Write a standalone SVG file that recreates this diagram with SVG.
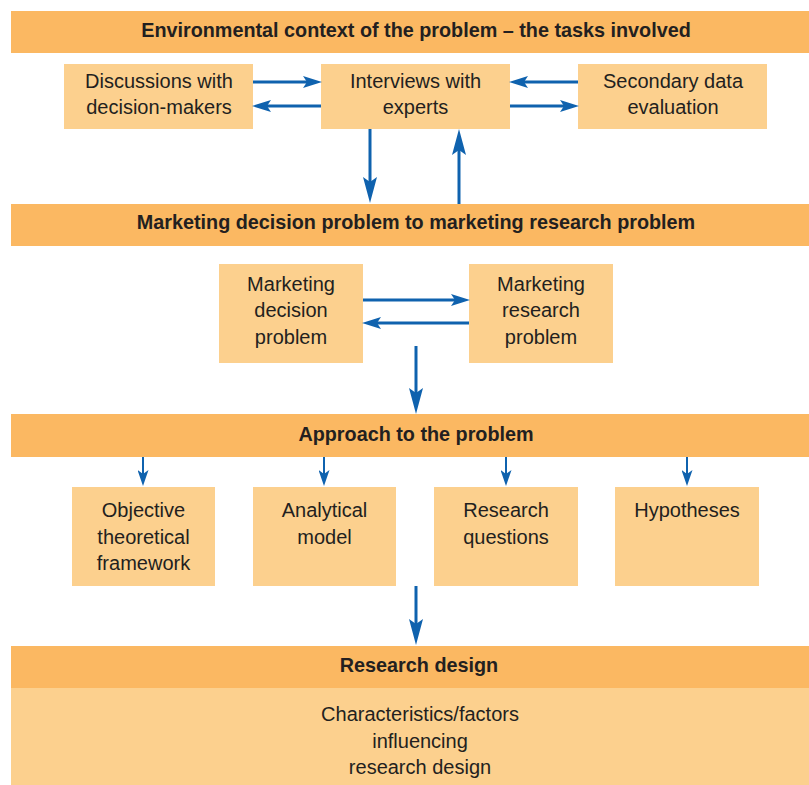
<svg xmlns="http://www.w3.org/2000/svg" width="809" height="785" viewBox="0 0 809 785">
<style>
.band{fill:#FBB862}
.box{fill:#FCD08E}
.t{font-family:"Liberation Sans",Arial,sans-serif;font-size:20px;fill:#231f20;text-anchor:middle}
.b{font-weight:bold;font-size:19.8px}
.c{stroke:#0F62AE;stroke-width:3;fill:none}
.s{stroke-width:2}
</style>
<defs>
<marker id="big" markerUnits="userSpaceOnUse" markerWidth="26" markerHeight="14" refX="16" refY="7" orient="auto"><path d="M0,0 L26,7 L0,14 L5,7 z" fill="#0F62AE"/></marker>
<marker id="med" markerUnits="userSpaceOnUse" markerWidth="19" markerHeight="12" refX="9" refY="6" orient="auto"><path d="M0,0 L19,6 L0,12 L4,6 z" fill="#0F62AE"/></marker>
<marker id="sm" markerUnits="userSpaceOnUse" markerWidth="16" markerHeight="11" refX="8" refY="5.5" orient="auto"><path d="M0,0 L16,5.5 L0,11 L4,5.5 z" fill="#0F62AE"/></marker>
</defs>
<g id="env">
<rect class="band" x="11" y="11" width="798" height="42"/>
<text class="t b" x="416" y="37">Environmental context of the problem – the tasks involved</text>
</g>
<g id="disc">
<rect class="box" x="64" y="64" width="189" height="65"/>
<text class="t" x="159" y="88">Discussions with</text>
<text class="t" x="159" y="114">decision-makers</text>
</g>
<g id="interv">
<rect class="box" x="321" y="64" width="189" height="65"/>
<text class="t" x="415.5" y="88">Interviews with</text>
<text class="t" x="415.5" y="114">experts</text>
</g>
<g id="second">
<rect class="box" x="578" y="64" width="189" height="65"/>
<text class="t" x="673" y="88">Secondary data</text>
<text class="t" x="673" y="114">evaluation</text>
</g>
<g id="mdp2mrp">
<rect class="band" x="11" y="204" width="798" height="42"/>
<text class="t b" x="416" y="229">Marketing decision problem to marketing research problem</text>
</g>
<g id="mdp">
<rect class="box" x="219" y="264" width="144" height="99"/>
<text class="t" x="291" y="291">Marketing</text>
<text class="t" x="291" y="317">decision</text>
<text class="t" x="291" y="344">problem</text>
</g>
<g id="mrp">
<rect class="box" x="469" y="264" width="144" height="99"/>
<text class="t" x="541" y="291">Marketing</text>
<text class="t" x="541" y="317">research</text>
<text class="t" x="541" y="344">problem</text>
</g>
<g id="approach">
<rect class="band" x="11" y="414" width="798" height="43"/>
<text class="t b" x="416" y="441">Approach to the problem</text>
</g>
<g id="otf">
<rect class="box" x="72" y="487" width="143" height="99"/>
<text class="t" x="143.5" y="517">Objective</text>
<text class="t" x="143.5" y="544">theoretical</text>
<text class="t" x="143.5" y="570">framework</text>
</g>
<g id="am">
<rect class="box" x="253" y="487" width="143" height="99"/>
<text class="t" x="324.5" y="517">Analytical</text>
<text class="t" x="324.5" y="544">model</text>
</g>
<g id="rq">
<rect class="box" x="434" y="487" width="144" height="99"/>
<text class="t" x="506" y="517">Research</text>
<text class="t" x="506" y="544">questions</text>
</g>
<g id="hyp">
<rect class="box" x="615" y="487" width="144" height="99"/>
<text class="t" x="687" y="517">Hypotheses</text>
</g>
<g id="rd">
<rect class="band" x="11" y="646" width="798" height="42"/>
<rect class="box" x="11" y="688" width="798" height="97"/>
<text class="t b" x="419" y="672">Research design</text>
<text class="t" x="420" y="721">Characteristics/factors</text>
<text class="t" x="420" y="748">influencing</text>
<text class="t" x="420" y="774">research design</text>
</g>
<g id="connectors">
<line class="c" x1="253" y1="82" x2="312" y2="82" marker-end="url(#med)"/>
<line class="c" x1="321" y1="106" x2="262" y2="106" marker-end="url(#med)"/>
<line class="c" x1="578" y1="82" x2="519" y2="82" marker-end="url(#med)"/>
<line class="c" x1="510" y1="106" x2="569" y2="106" marker-end="url(#med)"/>
<line class="c" x1="370" y1="129" x2="370" y2="193" marker-end="url(#big)"/>
<line class="c" x1="459" y1="204" x2="459" y2="139" marker-end="url(#big)"/>
<line class="c" x1="363" y1="300" x2="460" y2="300" marker-end="url(#med)"/>
<line class="c" x1="469" y1="323" x2="372" y2="323" marker-end="url(#med)"/>
<line class="c" x1="416" y1="346" x2="416" y2="404" marker-end="url(#big)"/>
<line class="c s" x1="143" y1="457" x2="143" y2="478" marker-end="url(#sm)"/>
<line class="c s" x1="324" y1="457" x2="324" y2="478" marker-end="url(#sm)"/>
<line class="c s" x1="506" y1="457" x2="506" y2="478" marker-end="url(#sm)"/>
<line class="c s" x1="687" y1="457" x2="687" y2="478" marker-end="url(#sm)"/>
<line class="c" x1="416" y1="586" x2="416" y2="635" marker-end="url(#big)"/>
</g>
</svg>
